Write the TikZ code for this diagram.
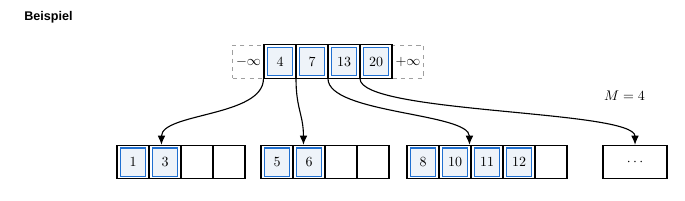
\documentclass[tikz,border=0pt]{standalone}
\usepackage{fontspec}
\newfontfamily\headfont{Liberation Sans}
\usetikzlibrary{arrows.meta,calc}
\definecolor{keyblue}{HTML}{1F6FD0}
\definecolor{keyfill}{HTML}{EEF3F9}
\begin{document}
\begin{tikzpicture}[x=0.715pt,y=-0.715pt,
  nodebox/.style={draw=black,line width=0.8pt,inner sep=0,minimum height=23.8pt},
  cellbox/.style={draw=black,line width=0.8pt,inner sep=0,minimum width=22.9pt,minimum height=23.8pt},
  fullcell/.style={draw=black,line width=0.7pt,inner sep=0,minimum width=22.0pt,minimum height=23.8pt},
  key/.style={draw=keyblue,fill=keyfill,line width=0.9pt,inner sep=0,minimum width=17.6pt,minimum height=20.2pt,font=\fontsize{10}{12}\selectfont},
  sentinel/.style={draw=gray!75,dashed,line width=0.6pt,inner sep=0,minimum width=22.3pt,minimum height=23.6pt},
  ptr/.style={-{Latex[length=6.5pt,width=5.5pt]},line width=0.8pt}]
\useasboundingbox (0,0) rectangle (685,200);

% title and label
\node[font=\headfont\bfseries\fontsize{9}{11}\selectfont,anchor=west,inner sep=0] (title) at (24,17) {Beispiel};
\node[inner sep=0] (mlabel) at (624.5,96) {$M = 4$};

% top node
\node[sentinel] (ninf) at (248.5,61.5) {$-\infty$};
\node[sentinel] (pinf) at (408,61.5) {$+\infty$};
\node[nodebox,minimum width=91.5pt] (top) at (328,61.5) {};
\foreach \i/\x/\v in {1/280/4,2/312/7,3/344/13,4/376/20}{
  \node[fullcell] (tc\i) at (\x,61.5) {};
  \node[key] (tk\i) at (\x,61.5) {\v};
}

% leaf 1
\node[nodebox,minimum width=91.5pt] (n1) at (181,162) {};
\foreach \i/\x in {3/197,4/229}{\node[cellbox] (n1c\i) at (\x,162) {};}
\foreach \i/\x/\v in {1/133/1,2/165/3}{
  \node[fullcell] (n1c\i) at (\x,162) {};
  \node[key] (n1k\i) at (\x,162) {\v};
}

% leaf 2
\node[nodebox,minimum width=91.5pt] (n2) at (325,162) {};
\foreach \i/\x in {3/341,4/373}{\node[cellbox] (n2c\i) at (\x,162) {};}
\foreach \i/\x/\v in {1/277/5,2/309/6}{
  \node[fullcell] (n2c\i) at (\x,162) {};
  \node[key] (n2k\i) at (\x,162) {\v};
}

% leaf 3
\node[nodebox,minimum width=114.4pt] (n3) at (487,162) {};
\node[cellbox] (n3c5) at (551,162) {};
\foreach \i/\x/\v in {1/423/8,2/455/10,3/487/11,4/519/12}{
  \node[fullcell] (n3c\i) at (\x,162) {};
  \node[key] (n3k\i) at (\x,162) {\v};
}

% leaf 4
\node[nodebox,minimum width=45.8pt] (n4) at (635,162) {$\cdots$};

% pointer positions
\coordinate (p0) at (top.south west);
\coordinate (p1) at ($(tc1.south east)!0.5!(tc2.south west)$);
\coordinate (p2) at ($(tc2.south east)!0.5!(tc3.south west)$);
\coordinate (p3) at ($(tc3.south east)!0.5!(tc4.south west)$);
\coordinate (a1) at ($(n1.north west)+(45,0)$);
\coordinate (a2) at ($(n2.north west)+(43,0)$);
\coordinate (a3) at ($(n3.north west)+(63,0)$);
\coordinate (a4) at (n4.north);

\draw[ptr] (p0) .. controls +(0,38) and +(0,-32) .. (a1);
\draw[ptr] (p1) .. controls +(0,30) and +(0,-30) .. (a2);
\draw[ptr] (p2) .. controls +(0,35) and +(0,-32) .. (a3);
\draw[ptr] (p3) .. controls +(0,35) and +(0,-35) .. (a4);
\end{tikzpicture}
\end{document}
